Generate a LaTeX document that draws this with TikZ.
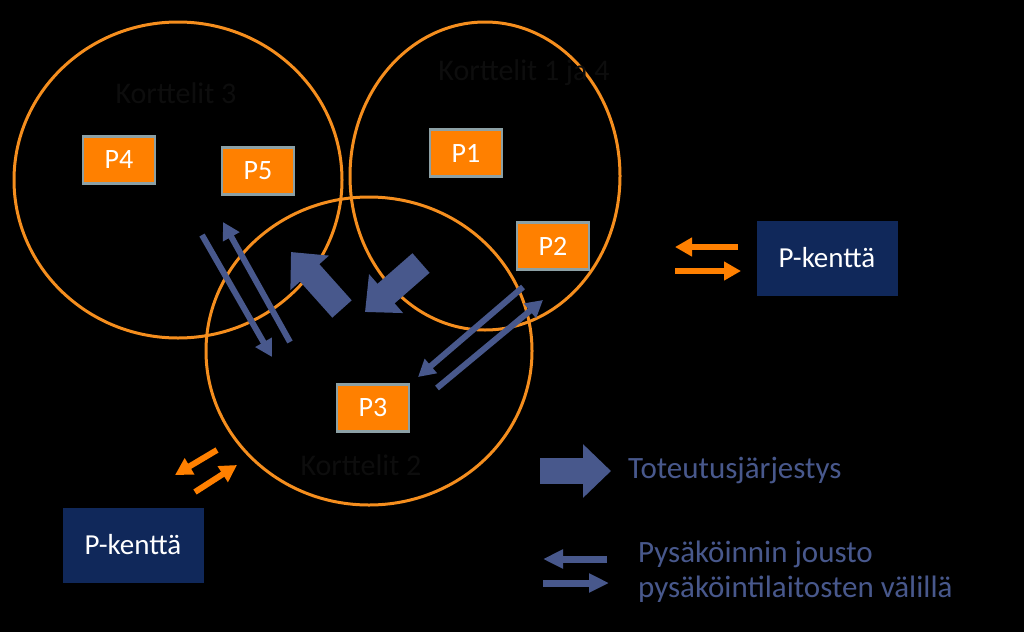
\documentclass[tikz,border=0pt]{standalone}
\usepackage{fontspec}
\setmainfont{Carlito}
\usetikzlibrary{arrows.meta,shapes.geometric}
\definecolor{ringc}{RGB}{245,142,30}
\definecolor{pfill}{RGB}{255,128,0}
\definecolor{pline}{RGB}{140,160,165}
\definecolor{navy}{RGB}{16,40,90}
\definecolor{arrblue}{RGB}{72,88,140}
\definecolor{dimtext}{RGB}{13,13,13}
\begin{document}
\begin{tikzpicture}[x=1pt,y=-1pt,
  ring/.style={draw=ringc, line width=3pt, ellipse, inner sep=0pt},
  pbox/.style={draw=pline, line width=2.5pt, fill=pfill, minimum width=72pt, minimum height=47pt, inner sep=0pt, text=white, font=\fontsize{28}{32}\selectfont},
  field/.style={fill=navy, minimum width=141pt, minimum height=75pt, inner sep=0pt, text=white, font=\fontsize{29}{33}\selectfont},
  lbl/.style={text=dimtext, font=\fontsize{30}{34}\selectfont, inner sep=0pt, anchor=base},
  fat/.style={arrblue, line width=26pt, -{Triangle[width=50pt,length=28pt]}},
  thin/.style={arrblue, line width=6pt, -{Triangle[width=18pt,length=17pt]}},
  othin/.style={pfill, line width=6pt, -{Triangle[width=18pt,length=17pt]}},
  leg/.style={text=arrblue, font=\fontsize{31}{35}\selectfont, inner sep=0pt, anchor=base west}]
\fill[black] (0,0) rectangle (1024,632);
\useasboundingbox (0,0) rectangle (1024,632);

% blocks (circles)
\node[ring, minimum width=328pt, minimum height=316pt] (k3) at (178,180) {};
\node[ring, minimum width=270pt, minimum height=308pt] (k1) at (485,176) {};
\node[ring, minimum width=326pt, minimum height=308pt] (k2) at (369,351) {};

\node[lbl] (l3) at (176,103) {Korttelit 3};
\node[lbl] (l1) at (524,80) {Korttelit 1 ja 4};
\node[lbl] (l2) at (361,475) {Korttelit 2};

% parking facilities
\node[pbox] (p4) at (119,160) {P4};
\node[pbox] (p5) at (258,171) {P5};
\node[pbox] (p1) at (466,153) {P1};
\node[pbox] (p2) at (553,246) {P2};
\node[pbox] (p3) at (373,408) {P3};

\node[field] (fr) at (827,258) {P-kenttä};
\node[field] (fl) at (133,545) {P-kenttä};

% implementation order arrows
\coordinate (a1s) at (342,309); \coordinate (a1e) at (291,252);
\coordinate (a2s) at (421,263); \coordinate (a2e) at (365,312);
\draw[fat] (a1s) -- (a1e);
\draw[fat] (a2s) -- (a2e);

% flexibility arrows (blue)
\coordinate (b1s) at (202,235); \coordinate (b1e) at (272,357);
\coordinate (b2s) at (290,342); \coordinate (b2e) at (223,222);
\draw[thin] (b1s) -- (b1e);
\draw[thin] (b2s) -- (b2e);
\coordinate (c1s) at (523,287); \coordinate (c1e) at (418,377);
\coordinate (c2s) at (437,388); \coordinate (c2e) at (543,300);
\draw[thin] (c1s) -- (c1e);
\draw[thin] (c2s) -- (c2e);

% orange arrows to parking fields
\coordinate (o1s) at (738,247); \coordinate (o1e) at (675,247);
\coordinate (o2s) at (675,271); \coordinate (o2e) at (741,271);
\draw[othin] (o1s) -- (o1e);
\draw[othin] (o2s) -- (o2e);
\coordinate (o3s) at (217,450); \coordinate (o3e) at (175,475);
\coordinate (o4s) at (195,492); \coordinate (o4e) at (237,465);
\draw[othin] (o3s) -- (o3e);
\draw[othin] (o4s) -- (o4e);

% legend
\coordinate (g1s) at (540,471); \coordinate (g1e) at (611,471);
\draw[arrblue, line width=26pt, -{Triangle[width=52pt,length=28pt]}] (g1s) -- (g1e);
\node[leg] (t1) at (628,478) {Toteutusjärjestys};
\coordinate (g2s) at (607,559); \coordinate (g2e) at (543,559);
\coordinate (g3s) at (543,583); \coordinate (g3e) at (609,583);
\draw[arrblue, line width=7pt, -{Triangle[width=18pt,length=20pt]}] (g2s) -- (g2e);
\draw[arrblue, line width=7pt, -{Triangle[width=18pt,length=20pt]}] (g3s) -- (g3e);
\node[leg] (t2) at (638,562) {Pysäköinnin jousto};
\node[leg] (t3) at (638,597) {pysäköintilaitosten välillä};
\end{tikzpicture}
\end{document}
